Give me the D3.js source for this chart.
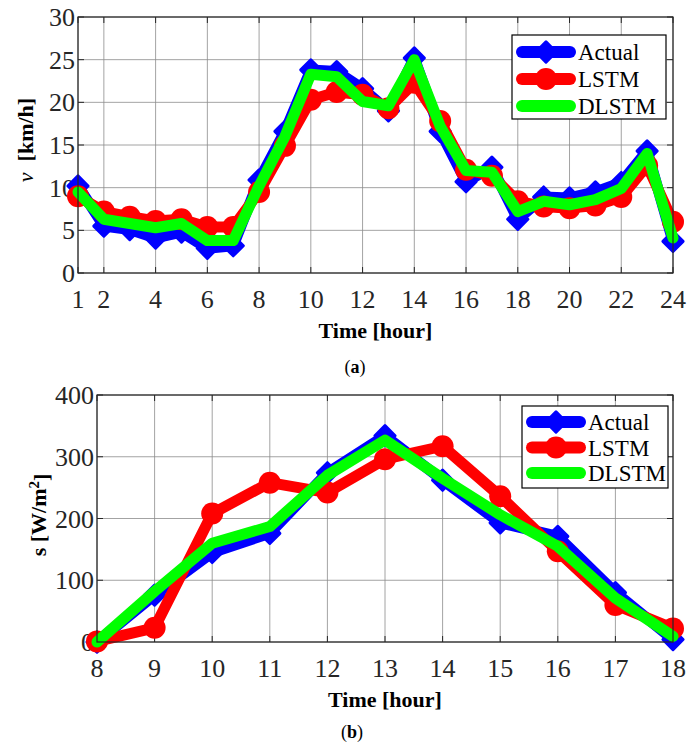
<!DOCTYPE html>
<html>
<head>
<meta charset="utf-8">
<script src="https://cdn.jsdelivr.net/npm/d3@7"></script>
<style>
  body { margin: 0; background: #fff; }
  text { font-family: "Liberation Serif", "Times New Roman", serif; }
</style>
</head>
<body>
<div id="my_dataviz"></div>
<script>
// Panel (a): wind speed
var hoursA = [1, 2, 3, 4, 5, 6, 7, 8, 9, 10, 11, 12, 13, 14, 15, 16, 17, 18, 19, 20, 21, 22, 23, 24]
var actualA = [10.2, 5.5, 5.1, 4.1, 4.8, 2.9, 3.2, 10.9, 16.6, 23.8, 23.6, 21.6, 19.0, 25.2, 16.6, 10.7, 12.4, 6.3, 8.9, 8.8, 9.5, 10.6, 14.3, 3.7]
var lstmA = [9.0, 7.2, 6.6, 6.1, 6.3, 5.4, 5.4, 9.5, 14.9, 20.3, 21.2, 20.9, 19.3, 22.3, 17.8, 12.1, 11.4, 8.4, 7.8, 7.6, 7.9, 8.9, 12.6, 6.0]
var dlstmA = [9.5, 6.3, 5.8, 5.3, 5.8, 3.8, 3.8, 10.2, 16.0, 23.3, 23.0, 20.1, 19.6, 25.0, 17.2, 12.0, 11.8, 7.2, 8.4, 8.0, 8.6, 9.9, 14.0, 4.1]
var xTicksA = [1, 2, 4, 6, 8, 10, 12, 14, 16, 18, 20, 22, 24]
var yTicksA = [0, 5, 10, 15, 20, 25, 30]

// Panel (b): solar irradiance
var hoursB = [8, 9, 10, 11, 12, 13, 14, 15, 16, 17, 18]
var actualB = [0, 76, 145, 176, 274, 334, 262, 193, 171, 80, 4]
var lstmB = [1, 23, 208, 258, 242, 296, 317, 236, 147, 60, 22]
var dlstmB = [0, 82, 160, 187, 270, 327, 265, 206, 155, 71, 9]
var xTicksB = [8, 9, 10, 11, 12, 13, 14, 15, 16, 17, 18]
var yTicksB = [0, 100, 200, 300, 400]

var seriesNames = ["Actual", "LSTM", "DLSTM"]
var seriesColors = ["#0000ff", "#ff0000", "#00ff00"]

var svg = d3.select("#my_dataviz")
  .append("svg")
  .attr("width", 692)
  .attr("height", 742)

function drawPanel(p) {
  var x = d3.scaleLinear().domain(p.xDomain).range([p.left, p.right])
  var y = d3.scaleLinear().domain(p.yDomain).range([p.bottom, p.top])
  var g = svg.append("g")

  // grid
  g.selectAll(".vgrid").data(p.xTicks).enter().append("line")
    .attr("x1", function(d) { return x(d) }).attr("x2", function(d) { return x(d) })
    .attr("y1", p.top).attr("y2", p.bottom)
    .style("stroke", "#8c8c8c").style("stroke-width", 0.8)
  g.selectAll(".hgrid").data(p.yTicks).enter().append("line")
    .attr("x1", p.left).attr("x2", p.right)
    .attr("y1", function(d) { return y(d) }).attr("y2", function(d) { return y(d) })
    .style("stroke", "#8c8c8c").style("stroke-width", 0.8)

  // inward ticks on all four sides
  var tl = 6
  p.xTicks.forEach(function(d) {
    g.append("line").attr("x1", x(d)).attr("x2", x(d)).attr("y1", p.bottom).attr("y2", p.bottom - tl).style("stroke", "#262626")
    g.append("line").attr("x1", x(d)).attr("x2", x(d)).attr("y1", p.top).attr("y2", p.top + tl).style("stroke", "#262626")
  })
  p.yTicks.forEach(function(d) {
    g.append("line").attr("x1", p.left).attr("x2", p.left + tl).attr("y1", y(d)).attr("y2", y(d)).style("stroke", "#262626")
    g.append("line").attr("x1", p.right).attr("x2", p.right - tl).attr("y1", y(d)).attr("y2", y(d)).style("stroke", "#262626")
  })

  // tick labels
  g.selectAll(".xt").data(p.xTicks).enter().append("text")
    .attr("x", function(d) { return x(d) })
    .attr("y", p.bottom + 35)
    .attr("text-anchor", "middle")
    .style("font-size", "26px").style("fill", "#262626")
    .text(function(d) { return d })
  g.selectAll(".yt").data(p.yTicks).enter().append("text")
    .attr("x", p.left - 3)
    .attr("y", function(d) { return y(d) })
    .attr("dy", "0.35em")
    .attr("text-anchor", "end")
    .style("font-size", "26px").style("fill", "#262626")
    .text(function(d) { return d })

  // series
  var line = d3.line()
    .x(function(d) { return x(d[0]) })
    .y(function(d) { return y(d[1]) })
  var sets = [p.actual, p.lstm, p.dlstm]
  sets.forEach(function(vals, i) {
    var pts = p.hours.map(function(h, j) { return [h, vals[j]] })
    g.append("path")
      .datum(pts)
      .attr("d", line)
      .style("fill", "none")
      .style("stroke", seriesColors[i])
      .style("stroke-width", 11)
      .style("stroke-linejoin", "round")
      .style("stroke-linecap", "round")
    if (i == 0) {
      g.selectAll(".dm").data(pts).enter().append("path")
        .attr("d", d3.symbol().type(d3.symbolDiamond2).size(260))
        .attr("transform", function(d) { return "translate(" + x(d[0]) + "," + y(d[1]) + ")" })
        .style("fill", seriesColors[0])
        .style("stroke", seriesColors[0]).style("stroke-width", 3).style("stroke-linejoin", "round")
    }
    if (i == 1) {
      g.selectAll(".cr").data(pts).enter().append("circle")
        .attr("cx", function(d) { return x(d[0]) })
        .attr("cy", function(d) { return y(d[1]) })
        .attr("r", 11)
        .style("fill", seriesColors[1])
    }
  })

  // frame
  g.append("rect")
    .attr("x", p.left).attr("y", p.top)
    .attr("width", p.right - p.left).attr("height", p.bottom - p.top)
    .style("fill", "none").style("stroke", "#262626").style("stroke-width", 1.2)

  // legend
  var lg = g.append("g")
  lg.append("rect")
    .attr("x", p.leg.x).attr("y", p.leg.y)
    .attr("width", p.leg.w).attr("height", p.leg.h)
    .style("fill", "#fff").style("stroke", "#000").style("stroke-width", 1.2)
  seriesNames.forEach(function(name, i) {
    var cy = p.leg.y + p.leg.first + i * p.leg.step
    var x1 = p.leg.x + 10, x2 = p.leg.x + 58
    lg.append("line").attr("x1", x1).attr("x2", x2).attr("y1", cy).attr("y2", cy)
      .style("stroke", seriesColors[i]).style("stroke-width", 12).style("stroke-linecap", "round")
    if (i == 0) {
      lg.append("path").attr("d", d3.symbol().type(d3.symbolDiamond2).size(260))
        .attr("transform", "translate(" + ((x1 + x2) / 2) + "," + cy + ")")
        .style("fill", seriesColors[0])
        .style("stroke", seriesColors[0]).style("stroke-width", 3).style("stroke-linejoin", "round")
    }
    if (i == 1) {
      lg.append("circle").attr("cx", (x1 + x2) / 2).attr("cy", cy).attr("r", 11)
        .style("fill", seriesColors[1])
    }
    lg.append("text").attr("x", p.leg.x + 66).attr("y", cy).attr("dy", "0.35em")
      .style("font-size", "23px").style("fill", "#000").text(name)
  })

  // axis titles
  svg.append("text")
    .attr("x", (p.left + p.right) / 2).attr("y", p.bottom + 65)
    .attr("text-anchor", "middle")
    .style("font-size", "22px").style("font-weight", "bold")
    .text("Time [hour]")
  var yl = svg.append("text")
    .attr("transform", "translate(" + p.yLabelX + "," + p.yLabelY + ") rotate(-90)")
    .attr("text-anchor", "middle")
    .style("font-size", "22px").style("font-weight", "bold")
  p.yLabel(yl)

  // caption
  var cap = svg.append("text")
    .attr("x", p.capX).attr("y", p.capY)
    .attr("text-anchor", "middle")
    .style("font-size", "18px")
  cap.append("tspan").text("(")
  cap.append("tspan").style("font-weight", "bold").text(p.capLetter)
  cap.append("tspan").text(")")
}

drawPanel({
  left: 78, right: 673, top: 17, bottom: 273,
  xDomain: [1, 24], yDomain: [0, 30],
  xTicks: xTicksA, yTicks: yTicksA,
  hours: hoursA, actual: actualA, lstm: lstmA, dlstm: dlstmA,
  leg: { x: 512, y: 35, w: 154, h: 84, first: 17, step: 27 },
  yLabelX: 33, yLabelY: 140,
  yLabel: function(t) {
    t.append("tspan").style("font-style", "italic").style("font-weight", "normal").text("v")
    t.append("tspan").text("\u00a0\u00a0[km/h]")
  },
  capX: 355, capY: 373, capLetter: "a"
})

drawPanel({
  left: 97, right: 673, top: 395, bottom: 642,
  xDomain: [8, 18], yDomain: [0, 400],
  xTicks: xTicksB, yTicks: yTicksB,
  hours: hoursB, actual: actualB, lstm: lstmB, dlstm: dlstmB,
  leg: { x: 522, y: 406, w: 146, h: 82, first: 16, step: 25.5 },
  yLabelX: 46, yLabelY: 515,
  yLabel: function(t) {
    t.append("tspan").text("s [W/m")
    t.append("tspan").attr("dy", "-0.45em").style("font-size", "15px").text("2")
    t.append("tspan").attr("dy", "0.45em").text("]")
  },
  capX: 352, capY: 738, capLetter: "b"
})
</script>
</body>
</html>
